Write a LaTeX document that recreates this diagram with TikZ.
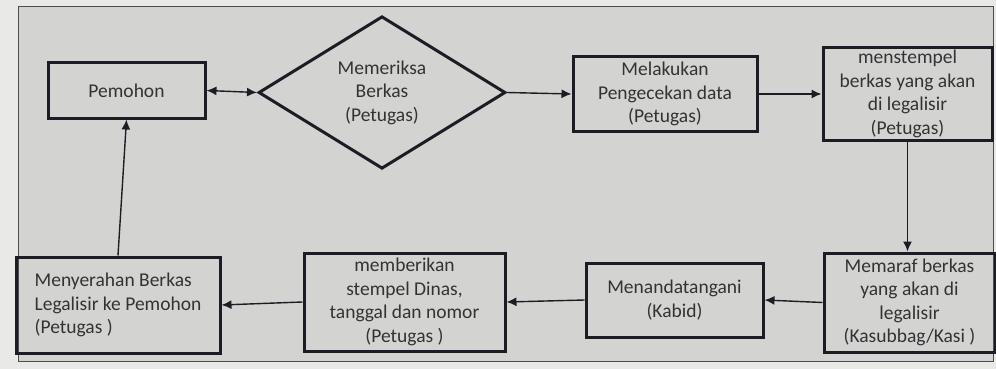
\documentclass[tikz,border=0pt]{standalone}
\usepackage{fontspec}
\setmainfont{Carlito}
\usetikzlibrary{shapes.geometric,arrows.meta}
\definecolor{bgpaper}{HTML}{D3D3D1}
\definecolor{outerpaper}{HTML}{E9E9E7}
\definecolor{inkline}{HTML}{1C1C24}
\definecolor{inktext}{HTML}{333333}
\tikzset{
  box/.style={draw=inkline, line width=3pt, rectangle, inner sep=0pt, align=center,
    text=inktext, font=\fontsize{19.5}{23.5}\selectfont},
  conn/.style={draw=inkline, line width=1.4pt, -{Latex[length=10pt,width=9pt]}},
}
\begin{document}
\begin{tikzpicture}[x=1pt,y=-1pt]
\fill[outerpaper] (0,0) rectangle (996,369);
\filldraw[fill=bgpaper, draw=gray!60!black, line width=0.8pt] (18,6) rectangle (993,361);
\useasboundingbox (0,0) rectangle (996,369);

\node[box, minimum width=157pt, minimum height=55pt] (pem) at (126.5,90.5) {Pemohon};
\node[box, diamond, minimum width=247pt, minimum height=139pt] (dia) at (382,92.5)
  {Memeriksa\\Berkas\\(Petugas)};
\node[box, minimum width=184pt, minimum height=74pt] (mel) at (665,94)
  {Melakukan\\Pengecekan data\\(Petugas)};
\node[box, minimum width=169pt, minimum height=92pt] (mst) at (907.5,94)
  {menstempel\\berkas yang akan\\di legalisir\\(Petugas)};
\node[box, minimum width=171pt, minimum height=99pt] (mrf) at (909.5,302.5)
  {Memaraf berkas\\yang akan di\\legalisir\\(Kasubbag/Kasi )};
\node[box, minimum width=177pt, minimum height=74pt] (mnd) at (674.5,300)
  {Menandatangani\\(Kabid)};
\node[box, minimum width=201pt, minimum height=98pt] (mbr) at (404.5,302)
  {memberikan\\stempel Dinas,\\tanggal dan nomor\\(Petugas )};
\node[box, minimum width=204pt, minimum height=96pt, align=left] (myr) at (118,305)
  {Menyerahan Berkas\\Legalisir ke Pemohon\\(Petugas )};

\draw[conn, {Latex[length=10pt,width=9pt]}-{Latex[length=10pt,width=9pt]}] (pem.east) -- (dia.west);
\draw[conn] (dia.east) -- (mel.west);
\draw[conn] (mel.east) -- (mst.west);
\draw[conn] (mst.south) -- (mst.south |- mrf.north);
\draw[conn] (mrf.west) -- (mnd.east);
\draw[conn] (mnd.west) -- (mbr.east);
\draw[conn] (mbr.west) -- (myr.east);
\draw[conn] (myr.north) -- (pem.south);
\end{tikzpicture}
\end{document}
